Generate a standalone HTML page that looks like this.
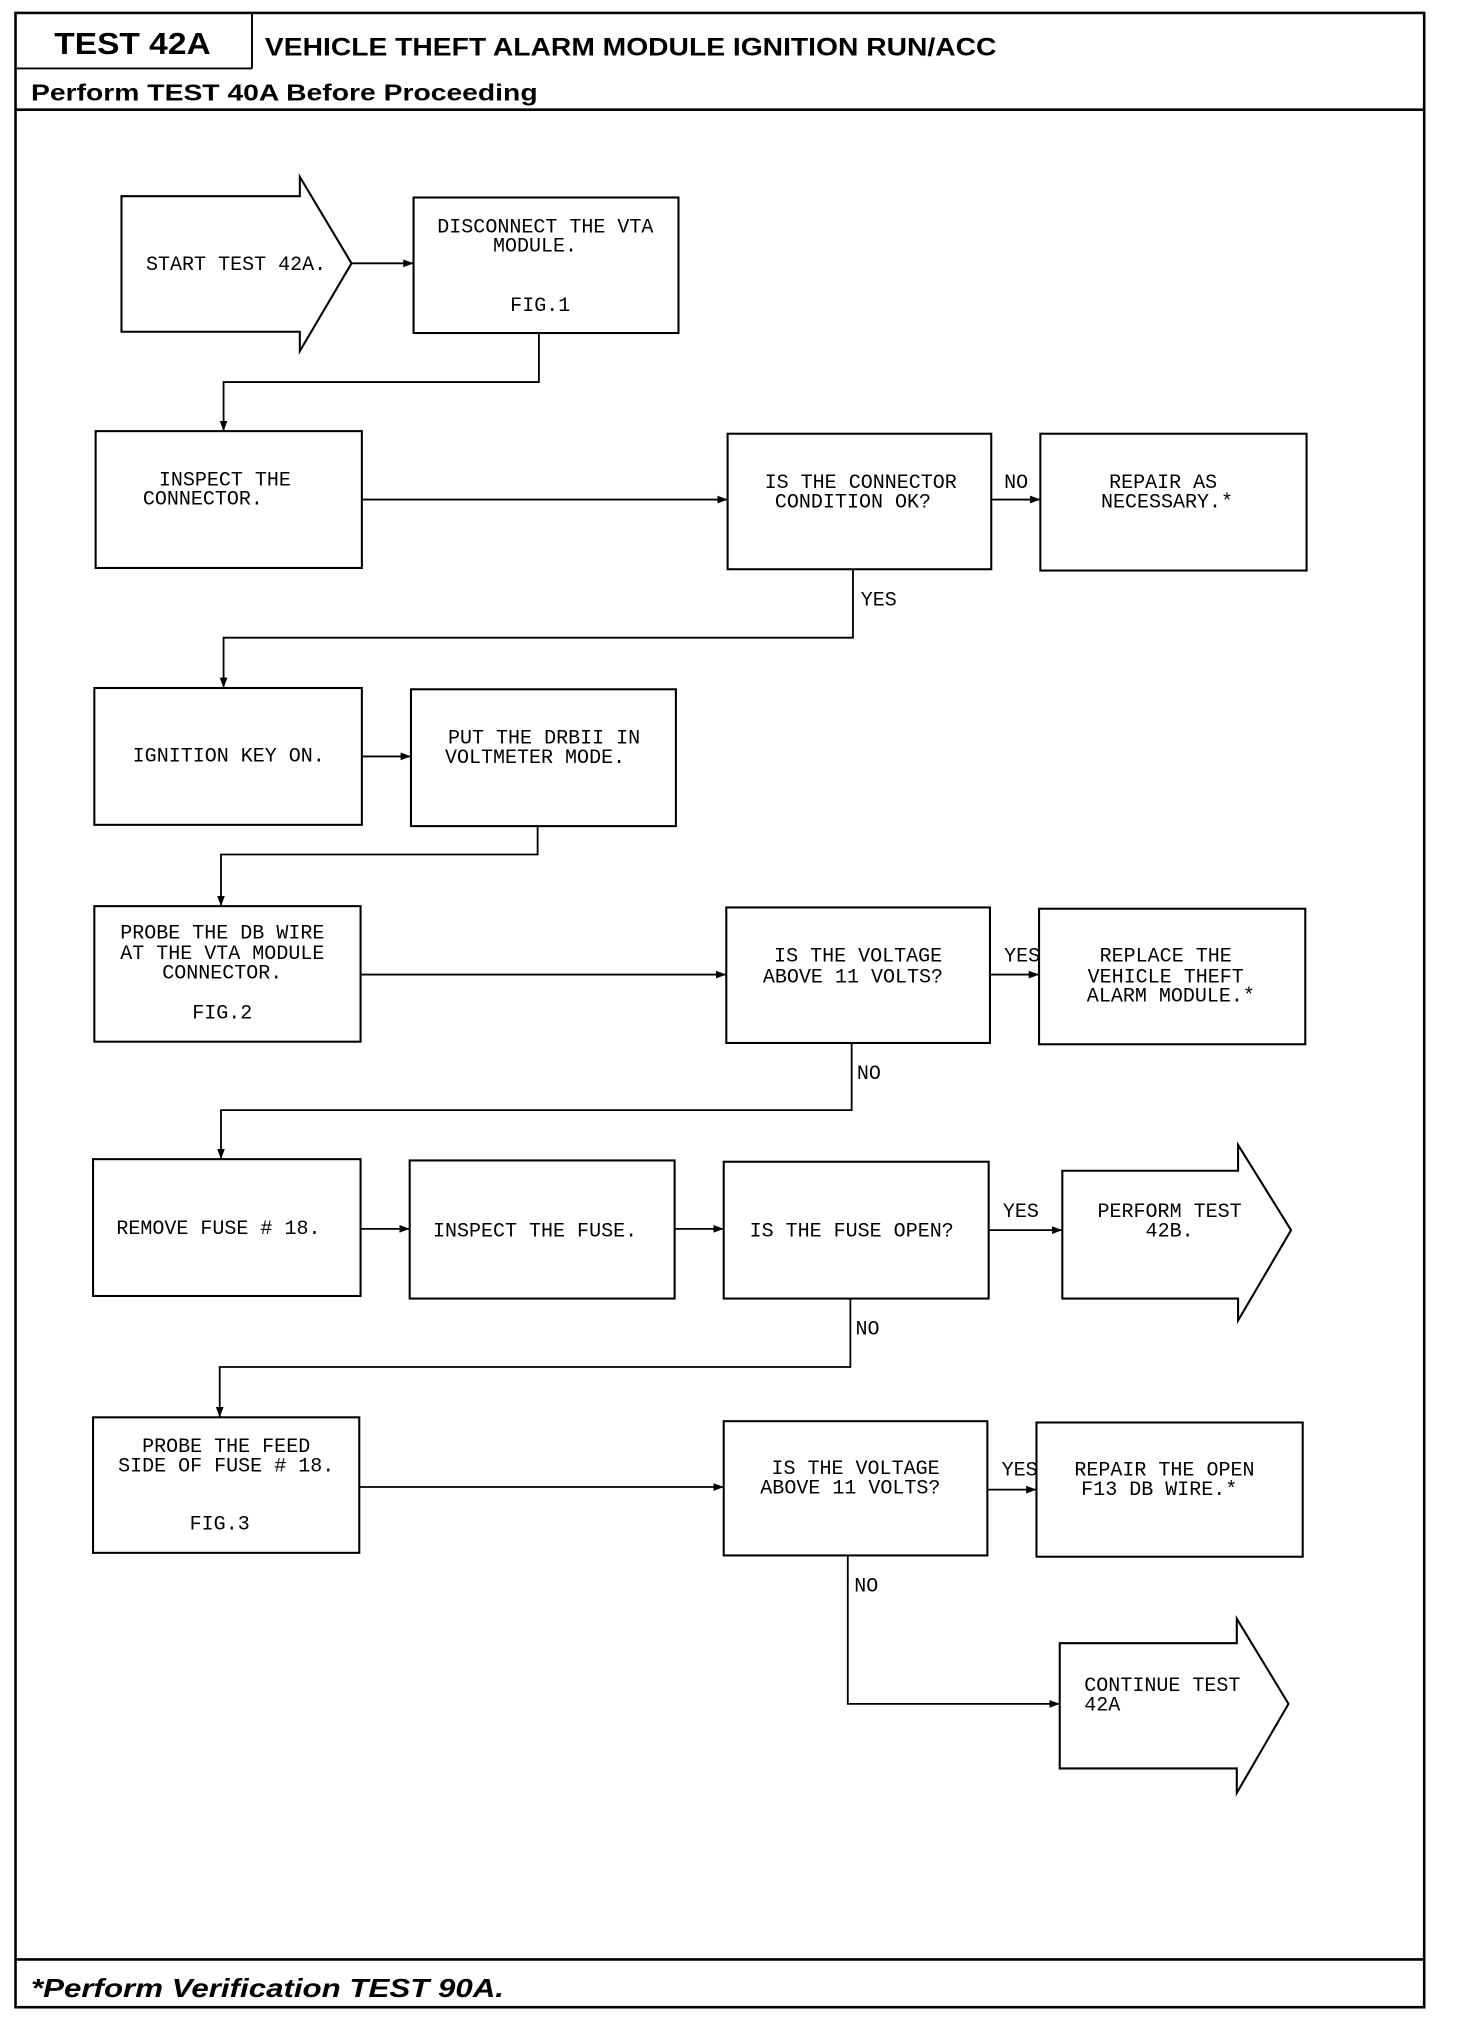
<!DOCTYPE html>
<html><head><meta charset="utf-8"><style>
html,body{margin:0;padding:0;background:#fff;}
svg{display:block;}
.t{font-family:"Liberation Mono",monospace;font-size:15.5px;fill:#000;}
.h{font-family:"Liberation Sans",sans-serif;font-weight:bold;fill:#000;}
</style></head><body>
<svg width="1472" height="2024" viewBox="0 0 1139 1568" preserveAspectRatio="none" xmlns="http://www.w3.org/2000/svg">
<defs><marker id="a" markerWidth="8" markerHeight="6" refX="8" refY="3" orient="auto" markerUnits="userSpaceOnUse"><path d="M0,0 L8,3 L0,6 z" fill="#000"/></marker></defs>
<g fill="none" stroke="#000">
<rect x="12" y="10" width="1090" height="1545" stroke-width="2"/>
<line x1="12" y1="53" x2="195" y2="53" stroke-width="1.5"/>
<line x1="195" y1="10" x2="195" y2="53" stroke-width="1.5"/>
<line x1="12" y1="85" x2="1102" y2="85" stroke-width="2"/>
<line x1="12" y1="1518" x2="1102" y2="1518" stroke-width="2"/>
</g>
<text class="h" x="42" y="42" font-size="24" textLength="121" lengthAdjust="spacingAndGlyphs">TEST 42A</text>
<text class="h" x="205" y="43" font-size="19" textLength="566" lengthAdjust="spacingAndGlyphs">VEHICLE THEFT ALARM MODULE IGNITION RUN/ACC</text>
<text class="h" x="24" y="78" font-size="18" textLength="392" lengthAdjust="spacingAndGlyphs">Perform TEST 40A Before Proceeding</text>
<text class="h" x="24" y="1547" font-size="20" font-style="italic" textLength="366" lengthAdjust="spacingAndGlyphs">*Perform Verification TEST 90A.</text>

<g fill="none" stroke="#000" stroke-width="1.6">
<path d="M94,152 H232 V137 L272,204 L232,272 V257 H94 Z"/>
<rect x="320" y="153" width="205" height="105"/>
<rect x="74" y="334" width="206" height="106"/>
<rect x="563" y="336" width="204" height="105"/>
<rect x="805" y="336" width="206" height="106"/>
<rect x="73" y="533" width="207" height="106"/>
<rect x="318" y="534" width="205" height="106"/>
<rect x="73" y="702" width="206" height="105"/>
<rect x="562" y="703" width="204" height="105"/>
<rect x="804" y="704" width="206" height="105"/>
<rect x="72" y="898" width="207" height="106"/>
<rect x="317" y="899" width="205" height="107"/>
<rect x="560" y="900" width="205" height="106"/>
<path d="M822,907 H958 V887 L999,953 L958,1023 V1006 H822 Z"/>
<rect x="72" y="1098" width="206" height="105"/>
<rect x="560" y="1101" width="204" height="104"/>
<rect x="802" y="1102" width="206" height="104"/>
<path d="M820,1273 H957 V1254 L997,1320 L957,1389 V1370 H820 Z"/>
</g>
<g fill="none" stroke="#000" stroke-width="1.4" marker-end="url(#a)">
<path d="M272,204 H320"/>
<path d="M417,258 V296 H173 V334"/>
<path d="M280,387 H563"/>
<path d="M767,387 H805"/>
<path d="M660,441 V494 H173 V533"/>
<path d="M280,586 H318"/>
<path d="M416,640 V662 H171 V702"/>
<path d="M279,755 H562"/>
<path d="M766,755 H804"/>
<path d="M659,808 V860 H171 V898"/>
<path d="M279,952 H317"/>
<path d="M522,952 H560"/>
<path d="M765,953 H822"/>
<path d="M658,1006 V1059 H170 V1098"/>
<path d="M278,1152 H560"/>
<path d="M764,1154 H802"/>
<path d="M656,1205 V1320 H820"/>
</g>
<g class="t">
<text x="113" y="209">START TEST 42A.</text>
<g text-anchor="middle">
<text x="422" y="180">DISCONNECT THE VTA</text>
<text x="414" y="195">MODULE.</text>
<text x="418" y="241">FIG.1</text>
<text x="174" y="376">INSPECT THE</text>
<text x="157" y="391">CONNECTOR.</text>
<text x="666" y="378">IS THE CONNECTOR</text>
<text x="660" y="393">CONDITION OK?</text>
<text x="900" y="378">REPAIR AS</text>
<text x="903" y="393">NECESSARY.*</text>
<text x="177" y="590">IGNITION KEY ON.</text>
<text x="421" y="576">PUT THE DRBII IN</text>
<text x="414" y="591">VOLTMETER MODE.</text>
<text x="172" y="727">PROBE THE DB WIRE</text>
<text x="172" y="743">AT THE VTA MODULE</text>
<text x="172" y="758">CONNECTOR.</text>
<text x="172" y="789">FIG.2</text>
<text x="664" y="745">IS THE VOLTAGE</text>
<text x="660" y="761">ABOVE 11 VOLTS?</text>
<text x="902" y="745">REPLACE THE</text>
<text x="902" y="761">VEHICLE THEFT</text>
<text x="906" y="776">ALARM MODULE.*</text>
<text x="169" y="956">REMOVE FUSE # 18.</text>
<text x="414" y="958">INSPECT THE FUSE.</text>
<text x="659" y="958">IS THE FUSE OPEN?</text>
<text x="905" y="943">PERFORM TEST</text>
<text x="905" y="958">42B.</text>
<text x="175" y="1125">PROBE THE FEED</text>
<text x="175" y="1140">SIDE OF FUSE # 18.</text>
<text x="170" y="1185">FIG.3</text>
<text x="662" y="1142">IS THE VOLTAGE</text>
<text x="658" y="1157">ABOVE 11 VOLTS?</text>
<text x="901" y="1143">REPAIR THE OPEN</text>
<text x="897" y="1158">F13 DB WIRE.*</text>
</g>
<text x="839" y="1310">CONTINUE TEST</text>
<text x="839" y="1325">42A</text>
<text x="777" y="378">NO</text>
<text x="666" y="469">YES</text>
<text x="777" y="745">YES</text>
<text x="663" y="836">NO</text>
<text x="776" y="943">YES</text>
<text x="662" y="1034">NO</text>
<text x="775" y="1143">YES</text>
<text x="661" y="1233">NO</text>
</g>
</svg>
</body></html>
